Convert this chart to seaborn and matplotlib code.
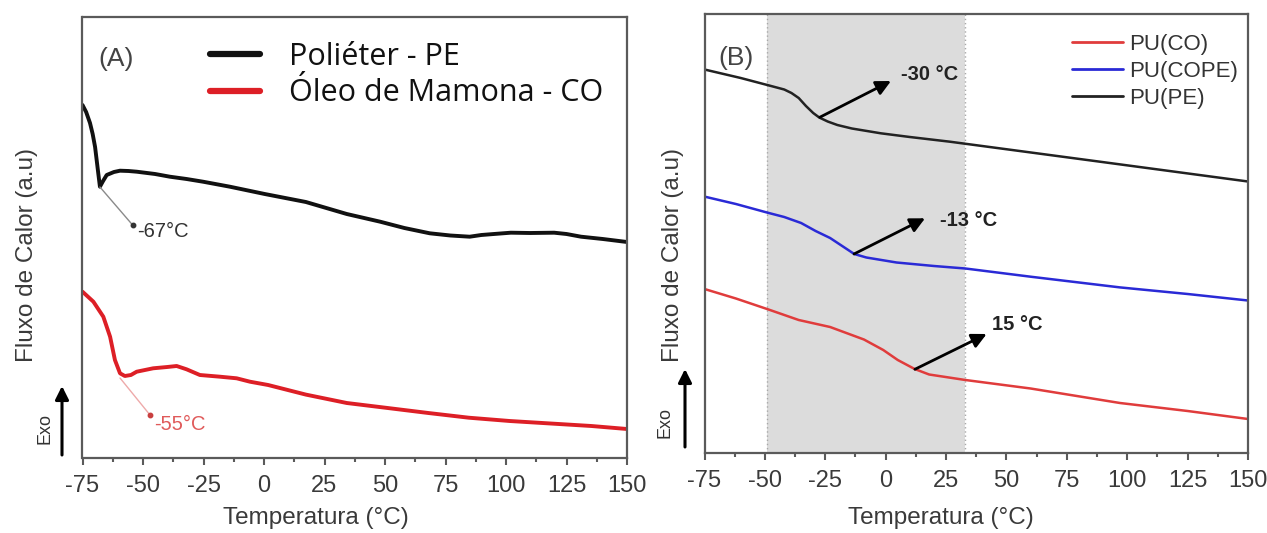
import numpy as np
import pandas as pd
import matplotlib
matplotlib.use("Agg")
import matplotlib.pyplot as plt
from matplotlib.ticker import MultipleLocator
from matplotlib.lines import Line2D
import seaborn as sns

# ---------------- data (arbitrary heat-flow units) ----------------
# Panel A
tA_pe = [-75, -73.5, -71.9, -70.8, -69.8, -68.5, -67.8, -66.5, -65, -62, -59.5, -56, -52.6, -45,
         -38.9, -32, -25.2, -14.1, 0.3, 17.3, 34.2, 48, 58, 68.5, 77, 85, 89.8, 95, 102, 110,
         119.9, 125, 131, 140, 149, 150]
yA_pe = [353, 346, 335, 324, 311, 285, 271.3, 277, 283, 286, 287.3, 287, 286.3, 284,
         281.3, 279, 276.3, 271.3, 264, 256, 244, 236.3, 230, 224.7, 222.5, 221.3, 223, 224, 225.3, 225,
         225.3, 224, 221.3, 219, 216.3, 216]
tA_co = [-75, -70.5, -66.4, -63.6, -61.6, -59.5, -57.5, -55, -52.6, -45.8, -40, -36.1, -32, -26.5,
         -18.2, -11.3, -5.8, 1.7, 17.3, 34.2, 51.1, 67.9, 84.6, 101.5, 118.4, 135.3, 150]
yA_co = [166.3, 156.3, 141.3, 121.3, 98, 84.7, 82, 83, 86.3, 89.7, 91, 92, 88.7, 83,
         81.3, 79.7, 76.3, 73, 63.4, 55, 50, 45, 40.3, 37, 34.5, 32, 29]
labelsA = ["Poliéter - PE", "Óleo de Mamona - CO"]

# Panel B
tB_pe = [-75, -60, -49, -42, -39, -36, -33, -30, -27.5, -24, -20, -14, -2, 10, 26.6, 88.7, 150]
yB_pe = [383.5, 375, 368, 363.5, 360, 355, 347, 340, 335.5, 331.5, 328, 324.5, 319.7, 316, 311.3,
         291.3, 271.5]
tB_cope = [-75, -62, -49, -42, -35, -29, -23, -18, -13, -8, 4.5, 20, 33, 60, 97, 125, 150]
yB_cope = [256.4, 249, 240.4, 236, 230, 222, 215, 207, 199, 195.5, 190.5, 187, 184.5, 176.3, 165.6,
           159, 152.5]
tB_co = [-75, -62, -48.5, -36, -23, -9, -1, 5, 12, 18, 33, 60, 97, 125, 150]
yB_co = [164, 154.5, 143.5, 133, 126, 113.5, 103, 93, 84, 78.5, 73, 64.5, 50, 42, 34]
labelsB = ["PU(CO)", "PU(COPE)", "PU(PE)"]

tg_A = [-67, -55]
tg_B = [-30, -13, 15]
shade_B = [-49, 33]
xticks = [-75, -50, -25, 0, 25, 50, 75, 100, 125, 150]

# ---------------- style ----------------
sns.set_theme(style="white")
plt.rcParams["font.family"] = ["Liberation Sans", "DejaVu Sans"]

W, H = 1267, 533
fig = plt.figure(figsize=(W / 100, H / 100), dpi=100)

def px_axes(l, r, t, b):
    return [l / W, (H - b) / H, (r - l) / W, (b - t) / H]

axA = fig.add_axes(px_axes(82.5, 627, 17, 458))
axB = fig.add_axes(px_axes(704.5, 1248, 14, 453))

spine_c = "#5a5a5a"
txt_c = "#3a3a3a"

def style_axes(ax, ytop):
    ax.set_xlim(-75, 150)
    ax.set_ylim(0, ytop)
    ax.set_xticks(xticks)
    ax.set_xticklabels([str(v) for v in xticks])
    ax.xaxis.set_minor_locator(MultipleLocator(12.5))
    ax.set_yticks([])
    for s in ax.spines.values():
        s.set_color(spine_c)
        s.set_linewidth(1.6)
    ax.tick_params(axis="x", which="major", direction="out", length=5, width=1.5,
                   color=spine_c, labelsize=17, labelcolor=txt_c, pad=7, bottom=True)
    ax.tick_params(axis="x", which="minor", direction="out", length=3, width=1.5,
                   color=spine_c, bottom=True)

# ---------------- Panel A ----------------
dfA1 = pd.DataFrame({"T": tA_pe, "v": yA_pe})
dfA2 = pd.DataFrame({"T": tA_co, "v": yA_co})
sns.lineplot(data=dfA1, x="T", y="v", ax=axA, color="#111111", lw=2.8)
sns.lineplot(data=dfA2, x="T", y="v", ax=axA, color="#dd1f26", lw=2.8)
style_axes(axA, 441)
axA.set_xlabel("Temperatura (°C)", fontsize=17.5, color=txt_c, va="center")
axA.xaxis.set_label_coords(0.429, -0.136)
axA.set_ylabel("Fluxo de Calor (a.u)", fontsize=17.5, color=txt_c, va="center")
axA.yaxis.set_label_coords(-0.102, 0.46)

hA = [Line2D([], [], color="#111111", lw=4.5), Line2D([], [], color="#dd1f26", lw=4.5)]
legA = axA.legend(hA, labelsA, loc="upper left", bbox_to_anchor=(0.234, 0.943), frameon=False,
                  prop={"family": ["Open Sans", "DejaVu Sans"], "size": 22},
                  handlelength=1.65, handletextpad=0.95, labelspacing=0.2,
                  borderpad=0, borderaxespad=0)
for t in legA.get_texts():
    t.set_color("#111111")

axA.text(0.061, 0.905, "(A)", transform=axA.transAxes, fontsize=19, color="#444444",
         ha="center", va="center")

# Tg leaders, panel A
axA.plot([-67.8, -54.3], [271, 233], color="#8a8a8a", lw=1.0)
axA.plot([-54.3], [233], "o", color="#333333", ms=3.2)
axA.text(-52.3, 226.5, f"{tg_A[0]}°C", fontsize=14.5, color="#333333", ha="left", va="center")
axA.plot([-59.5, -47.1], [80, 43], color="#eeaaaa", lw=1.0)
axA.plot([-47.1], [43], "o", color="#c94040", ms=3.2)
axA.text(-45.2, 33.5, f"{tg_A[1]}°C", fontsize=14.5, color="#e05a5a", ha="left", va="center")

# ---------------- Panel B ----------------
axB.axvspan(shade_B[0], shade_B[1], color="#dcdcdc", lw=0, zorder=0)
for xv in shade_B:
    axB.axvline(xv, color="#a8a8a8", lw=1.0, ls=(0, (1, 2)), zorder=0.5)

dfB = pd.concat([
    pd.DataFrame({"T": tB_co, "v": yB_co, "s": labelsB[0]}),
    pd.DataFrame({"T": tB_cope, "v": yB_cope, "s": labelsB[1]}),
    pd.DataFrame({"T": tB_pe, "v": yB_pe, "s": labelsB[2]}),
])
palB = {labelsB[0]: "#e03c3c", labelsB[1]: "#2a2ad6", labelsB[2]: "#222222"}
sns.lineplot(data=dfB, x="T", y="v", hue="s", palette=palB, ax=axB, lw=1.8, legend=False)
style_axes(axB, 439)
axB.set_xlabel("Temperatura (°C)", fontsize=17.5, color=txt_c, va="center")
axB.xaxis.set_label_coords(0.435, -0.148)
axB.set_ylabel("Fluxo de Calor (a.u)", fontsize=17.5, color=txt_c, va="center")
axB.yaxis.set_label_coords(-0.058, 0.451)

hB = [Line2D([], [], color=palB[l], lw=2.0) for l in labelsB]
legB = axB.legend(hB, labelsB, loc="upper left", bbox_to_anchor=(0.676, 0.955), frameon=False,
                  fontsize=16, handlelength=2.3, handletextpad=0.28, labelspacing=0.28,
                  borderpad=0, borderaxespad=0)
for t in legB.get_texts():
    t.set_color("#333333")

axB.text(0.058, 0.9, "(B)", transform=axB.transAxes, fontsize=19, color="#444444",
         ha="center", va="center")

arr = dict(arrowstyle="-|>", color="black", lw=2.0, mutation_scale=22, shrinkA=0, shrinkB=0)
axB.annotate("", xy=(2.2, 372), xytext=(-27.3, 335.7), arrowprops=arr)
axB.text(6.3, 378, f"{tg_B[0]} °C", fontsize=14.5, fontweight="bold", color="#222222",
         ha="left", va="center")
axB.annotate("", xy=(16.3, 234.7), xytext=(-13.1, 199), arrowprops=arr)
axB.text(22.5, 232.3, f"{tg_B[1]} °C", fontsize=14.5, fontweight="bold", color="#222222",
         ha="left", va="center")
axB.annotate("", xy=(41.8, 119), xytext=(12.1, 83.7), arrowprops=arr)
axB.text(43.9, 128, f"{tg_B[2]} °C", fontsize=14.5, fontweight="bold", color="#222222",
         ha="left", va="center")

# ---------------- Exo arrows ----------------
def fx(x):
    return x / W

def fy(y):
    return (H - y) / H

exo_arr = dict(arrowstyle="-|>", color="black", lw=2.2, mutation_scale=20, shrinkA=0, shrinkB=0)
fig.add_artist(matplotlib.patches.FancyArrowPatch((fx(62), fy(455)), (fx(62), fy(386)),
                                                  transform=fig.transFigure, **exo_arr))
fig.text(fx(45), fy(428), "Exo", rotation=90, fontsize=13, color="#333333", ha="center", va="center")
fig.add_artist(matplotlib.patches.FancyArrowPatch((fx(685), fy(447)), (fx(685), fy(369)),
                                                  transform=fig.transFigure, **exo_arr))
fig.text(fx(665), fy(422), "Exo", rotation=90, fontsize=13, color="#333333", ha="center", va="center")

fig.savefig("out.png", dpi=100, facecolor="white")
